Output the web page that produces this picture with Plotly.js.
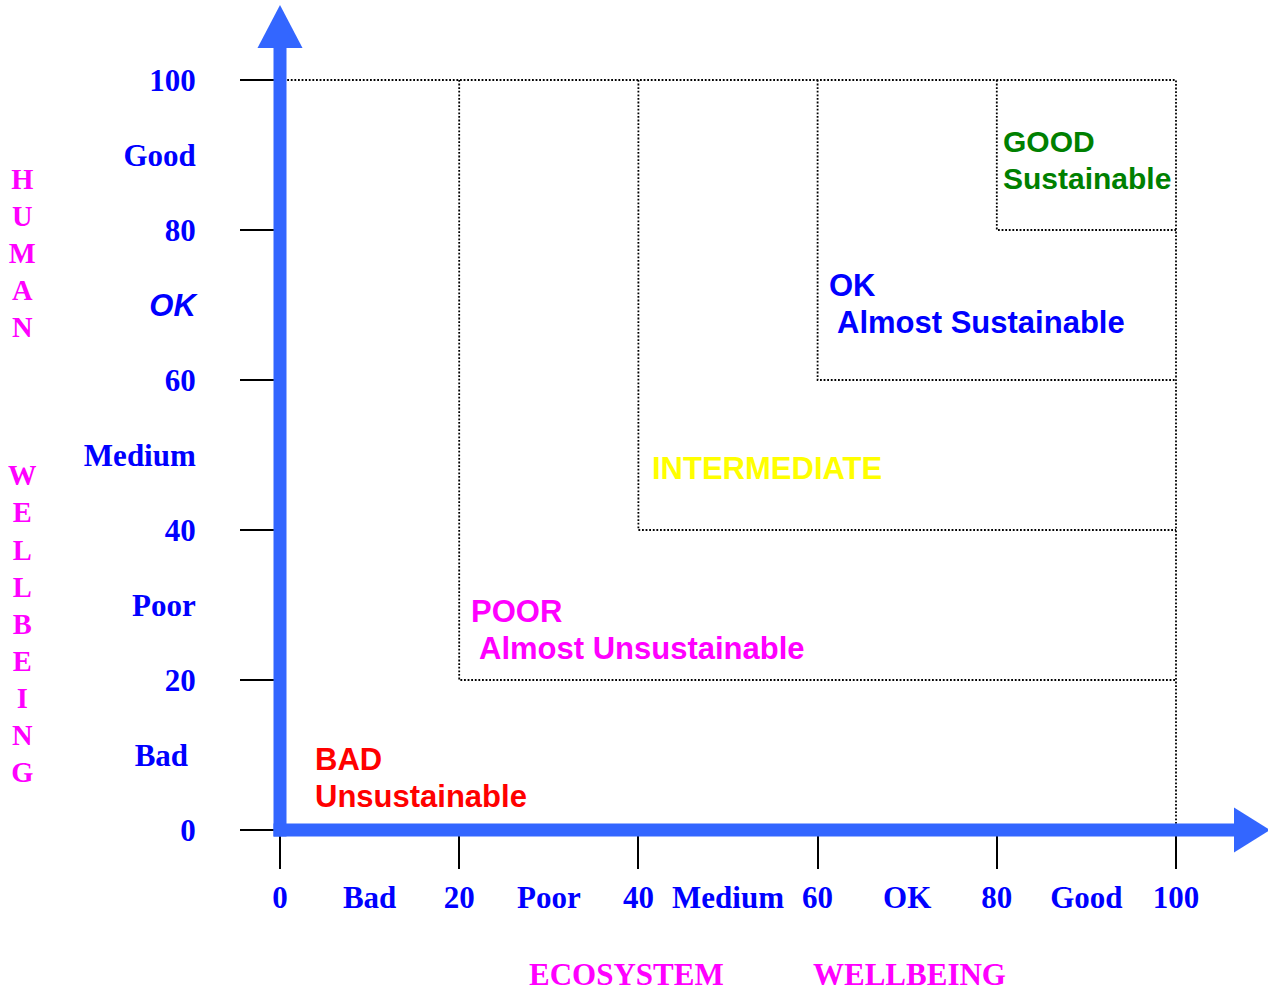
<!DOCTYPE html>
<html><head><meta charset="utf-8">
<script src="https://cdn.plot.ly/plotly-3.0.1.min.js"></script>
<style>html,body{margin:0;padding:0;background:#fff;}#chart{width:1268px;height:994px;}</style>
</head><body><div id="chart"></div>
<script>
// ---------------- data ----------------
const scaleTicks = [0, 20, 40, 60, 80, 100];
const scaleTickText = ['0', '20', '40', '60', '80', '100'];
const bandCentres = [10, 30, 50, 70, 90];
const xBandText = ['Bad', 'Poor', 'Medium', 'OK', 'Good'];
const yBandText = ['Bad', 'Poor', 'Medium', 'OK', 'Good'];
const zoneStart = [0, 20, 40, 60, 80];
const scaleMax = 100;
const zoneTitle = ['BAD', 'POOR', 'INTERMEDIATE', 'OK', 'GOOD'];
const zoneSubtitle = ['Unsustainable', 'Almost Unsustainable', '', 'Almost Sustainable', 'Sustainable'];
const xTitleWords = ['ECOSYSTEM', 'WELLBEING'];
const yTitleWords = ['HUMAN', 'WELLBEING'];

// ---------------- style / geometry ----------------
const W = 1268, H = 994;
const X0PX = 280, XSCALE = 8.96;   // pixel of value 0, pixels per unit
const Y0PX = 830, YSCALE = 7.5;
const xRange = [-X0PX / XSCALE, (W - X0PX) / XSCALE];
const yRange = [-(H - Y0PX) / YSCALE, Y0PX / YSCALE];
const dx = p => p / XSCALE, dy = p => p / YSCALE;

const blue = '#0000ff', magenta = '#ff00ff', axisBlue = '#3366ff';
const serif = 'Liberation Serif, Times New Roman, serif';
const sans = 'Liberation Sans, Arial, sans-serif';
const zoneColor = ['#ff0000', '#ff00ff', '#ffff00', '#0000ff', '#008000'];
const zoneIndent = [0, 8, 0, 8, 0];           // px indent of second line
const zoneShift = [[33, 34], [10, 32], [12, 62], [9, 58], [4, 52]]; // px right / px up of last line
const zoneFont = [31, 31, 31, 31, 30], zoneLineGap = 37;

// ---------------- traces ----------------
const dotLine = {color: '#000', width: 1.8, dash: '1.8px,1.8px'};
const traces = [];
traces.push({x: [0, scaleMax, scaleMax], y: [scaleMax, scaleMax, 0], mode: 'lines', line: dotLine, hoverinfo: 'skip', showlegend: false});
zoneStart.forEach(t => {
  if (t === 0) return;
  traces.push({x: [t, t, scaleMax], y: [scaleMax, t, t], mode: 'lines', line: dotLine, hoverinfo: 'skip', showlegend: false});
});
// dummy trace so the overlaying word axes exist
traces.push({x: [null], y: [null], xaxis: 'x2', yaxis: 'y2', mode: 'markers', hoverinfo: 'skip', showlegend: false});

// ---------------- annotations ----------------
const annotations = [];
zoneStart.forEach((t, i) => {
  const lines = [zoneTitle[i]];
  if (zoneSubtitle[i]) lines.push(zoneSubtitle[i]);
  const n = lines.length;
  lines.forEach((txt, k) => {
    annotations.push({
      x: t, y: t, xref: 'x', yref: 'y', text: txt, showarrow: false,
      xanchor: 'left', yanchor: 'middle', align: 'left',
      xshift: zoneShift[i][0] + (k > 0 ? zoneIndent[i] : 0),
      yshift: zoneShift[i][1] + (n - 1 - k) * zoneLineGap,
      font: {family: sans, size: zoneFont[i], color: zoneColor[i], weight: 'bold'}
    });
  });
});
// x axis title
const xTitleY = (H - 974) / H;
annotations.push({x: 626 / W, y: xTitleY, xref: 'paper', yref: 'paper', text: xTitleWords[0], showarrow: false,
  xanchor: 'center', yanchor: 'middle', font: {family: serif, size: 31, color: magenta, weight: 'bold'}});
annotations.push({x: 909 / W, y: xTitleY, xref: 'paper', yref: 'paper', text: xTitleWords[1], showarrow: false,
  xanchor: 'center', yanchor: 'middle', font: {family: serif, size: 31, color: magenta, weight: 'bold'}});
// y axis title (stacked letters)
const yTitleText = yTitleWords[0].split('').join('<br>') + '<br>\u00a0<br>\u00a0<br>\u00a0<br>' + yTitleWords[1].split('').join('<br>');
annotations.push({x: 22 / W, y: (H - 476) / H, xref: 'paper', yref: 'paper', text: yTitleText, showarrow: false,
  xanchor: 'center', yanchor: 'middle', align: 'center', font: {family: serif, size: 28.5, color: magenta, weight: 'bold'}});

// ---------------- arrows (axis shafts) ----------------
const shaftW = 13;
const vTop = dy(Y0PX - 48), vTip = dy(Y0PX - 5), vHalf = dx(22.5);
const hEnd = dx(1234 - X0PX), hTip = dx(1270 - X0PX), hHalf = dy(22.5);
const shapes = [
  {type: 'line', xref: 'x', yref: 'y', x0: 0, x1: 0, y0: -dy(shaftW / 2), y1: vTop, line: {color: axisBlue, width: shaftW}, layer: 'above'},
  {type: 'path', xref: 'x', yref: 'y', path: `M${-vHalf},${vTop} L0,${vTip} L${vHalf},${vTop} Z`, fillcolor: axisBlue, line: {width: 0}, layer: 'above'},
  {type: 'line', xref: 'x', yref: 'y', x0: -dx(shaftW / 2), x1: hEnd, y0: 0, y1: 0, line: {color: axisBlue, width: shaftW}, layer: 'above'},
  {type: 'path', xref: 'x', yref: 'y', path: `M${hEnd},${-hHalf} L${hTip},0 L${hEnd},${hHalf} Z`, fillcolor: axisBlue, line: {width: 0}, layer: 'above'}
];

const tickFont = {family: serif, size: 31, color: blue, weight: 'bold'};
const xPos = (H - Y0PX) / H, yPos = X0PX / W;
const common = {showgrid: false, zeroline: false, showline: false, automargin: false, fixedrange: true};

const layout = {
  width: W, height: H, margin: {l: 0, r: 0, t: 0, b: 0, pad: 0},
  paper_bgcolor: '#fff', plot_bgcolor: '#fff', showlegend: false, hovermode: false,
  xaxis: Object.assign({}, common, {range: xRange, anchor: 'free', position: xPos, tickmode: 'array', tickvals: scaleTicks, ticktext: scaleTickText,
    ticks: 'outside', ticklen: 38, tickwidth: 2, tickcolor: '#000', tickfont: tickFont, ticklabelstandoff: 2}),
  xaxis2: Object.assign({}, common, {range: xRange, overlaying: 'x', anchor: 'free', position: xPos, tickmode: 'array', tickvals: bandCentres, ticktext: xBandText,
    ticks: 'outside', ticklen: 38, tickwidth: 2, tickcolor: 'rgba(0,0,0,0)', tickfont: tickFont, ticklabelstandoff: 2}),
  yaxis: Object.assign({}, common, {range: yRange, anchor: 'free', position: yPos, tickmode: 'array', tickvals: scaleTicks, ticktext: scaleTickText,
    ticks: 'outside', ticklen: 40, tickwidth: 2, tickcolor: '#000', tickfont: tickFont, ticklabelstandoff: 38}),
  yaxis2: Object.assign({}, common, {range: yRange, overlaying: 'y', anchor: 'free', position: yPos, tickmode: 'array', tickvals: bandCentres,
    ticktext: yBandText.map(t => t === 'OK' ? '<span style="font-family:Liberation Sans, Arial"><i>OK</i></span>' : (t === 'Bad' ? t + '\u00a0' : t)),
    ticks: 'outside', ticklen: 40, tickwidth: 2, tickcolor: 'rgba(0,0,0,0)', tickfont: tickFont, ticklabelstandoff: 38}),
  shapes: shapes, annotations: annotations
};

Plotly.newPlot('chart', traces, layout, {staticPlot: true, displayModeBar: false});
</script>
</body></html>
